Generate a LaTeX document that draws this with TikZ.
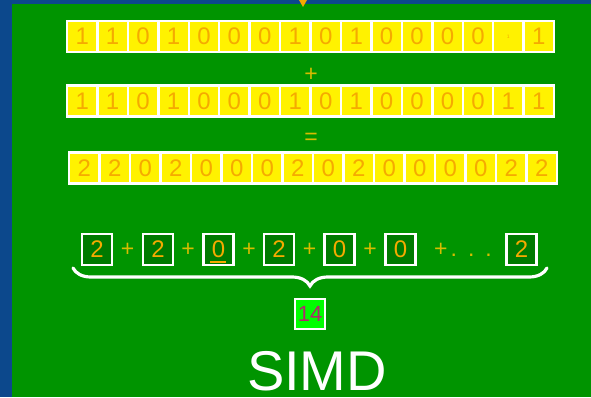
\documentclass[tikz,border=0pt]{standalone}
\usepackage{fontspec}
\setmainfont{Liberation Sans}
\usetikzlibrary{decorations.pathreplacing}
\definecolor{bgreen}{RGB}{0,148,0}
\definecolor{bblue}{RGB}{12,72,140}
\definecolor{dorange}{RGB}{245,170,0}
\definecolor{pyellow}{RGB}{215,188,0}
\definecolor{dgreen}{RGB}{0,122,0}
\definecolor{lgreen}{RGB}{0,255,0}
\definecolor{magtext}{RGB}{176,40,110}
\begin{document}
\begin{tikzpicture}[x=1pt,y=-1pt,
  cell/.style={draw=white, line width=2.4pt, fill=yellow, minimum width=30.4pt, minimum height=31pt, inner sep=0pt, text=dorange, font=\fontsize{24}{24}\selectfont},
  sbox/.style={draw=white, line width=2.2pt, fill=dgreen, minimum width=30pt, minimum height=31pt, inner sep=0pt, text=dorange, font=\fontsize{24}{24}\selectfont},
  oper/.style={text=pyellow, inner sep=0pt, font=\fontsize{23}{23}\selectfont},
  sumbox/.style={draw=white, line width=2.2pt, fill=lgreen, minimum width=30pt, minimum height=30pt, inner sep=0pt, text=magtext, font=\fontsize{22}{22}\selectfont},
  title/.style={text=white, inner sep=0pt, font=\fontsize{56}{56}\selectfont}]
\useasboundingbox (0,0) rectangle (591,397);
\fill[bblue] (0,0) rectangle (591,397);
\fill[bgreen] (12,4) rectangle (591,397);
\fill[dorange] (299,0) -- (307,0) -- (303,7) -- cycle;
% row 1
\foreach \v [count=\i] in {1,1,0,1,0,0,0,1,0,1,0,0,0,0,{\fontsize{5}{5}\selectfont 1},1}
  \node[cell] (a\i) at ({67+30.44*(\i-0.5)},36.5) {\v};
\node[oper] (plus0) at (311,75) {+};
% row 2
\foreach \v [count=\i] in {1,1,0,1,0,0,0,1,0,1,0,0,0,0,1,1}
  \node[cell] (b\i) at ({67+30.44*(\i-0.5)},101) {\v};
\node[oper] (eq0) at (311,139) {=};
% row 3
\foreach \v [count=\i] in {2,2,0,2,0,0,0,2,0,2,0,0,0,0,2,2}
  \node[cell] (c\i) at ({69+30.5*(\i-0.5)},168) {\v};
% sum row
\node[sbox] (s1) at (97,249.5) {2};
\node[sbox] (s2) at (158,249.5) {2};
\node[sbox] (s3) at (218.5,249.5) {0};
\node[sbox] (s4) at (279,249.5) {2};
\node[sbox] (s5) at (339.5,249.5) {0};
\node[sbox] (s6) at (400.5,249.5) {0};
\node[sbox] (s7) at (521.5,249.5) {2};
\node[oper] (p1) at (127.5,250) {+};
\node[oper] (p2) at (188,250) {+};
\node[oper] (p3) at (249,250) {+};
\node[oper] (p4) at (309.5,250) {+};
\node[oper] (p5) at (370,250) {+};
\node[oper,anchor=west] (p6) at (434,250) {+\hspace{3pt}.\hspace{11pt}.\hspace{11pt}.};
\draw[dorange, line width=2pt] ([xshift=-8.5pt,yshift=4pt]s3.south) -- ([xshift=7.5pt,yshift=4pt]s3.south);
% brace
\coordinate (bl) at (73,268);
\coordinate (br) at (547,268);
\draw[white, line width=3.2pt, line cap=round, decorate, decoration={brace, mirror, amplitude=18pt}] (bl) -- (br);
\node[sumbox] (sum) at (310,314) {14};
\node[title, anchor=base] (simd) at (317,390) {SIMD};
\end{tikzpicture}
\end{document}
